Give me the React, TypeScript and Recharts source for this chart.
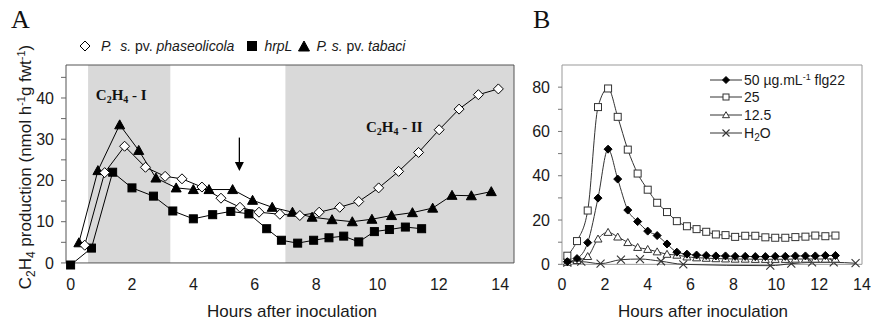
import React from 'react';
import { LineChart, Line, XAxis, YAxis, ReferenceArea, ReferenceLine, ReferenceDot } from 'recharts';

// ---------- Panel A data ----------
const phaseHours = [0.46, 1.11, 1.76, 2.44, 3.08, 3.63, 4.28, 4.9, 5.52, 6.14, 6.82, 7.47, 8.1, 8.77, 9.39, 10.04, 10.69, 11.34, 12.01, 12.66, 13.29, 13.94];
const phaseValues = [4.3, 21.9, 28.3, 23.2, 21.0, 20.4, 18.4, 15.7, 13.5, 12.3, 11.8, 11.5, 12.3, 13.5, 14.9, 18.2, 22.2, 26.8, 32.3, 37.3, 40.8, 42.2];
const hrpHours = [0, 0.68, 1.37, 2.0, 2.7, 3.33, 4.0, 4.63, 5.22, 5.81, 6.39, 6.87, 7.4, 7.92, 8.42, 8.9, 9.39, 9.9, 10.39, 10.91, 11.44];
const hrpValues = [-0.5, 3.6, 22.0, 18.2, 16.2, 12.6, 10.7, 11.7, 12.5, 11.9, 8.3, 5.5, 4.8, 5.5, 6.1, 6.5, 5.1, 7.6, 8.1, 8.7, 8.3];
const tabaciHours = [0.27, 0.89, 1.6, 2.22, 2.78, 3.44, 4.0, 4.51, 5.28, 5.93, 6.57, 7.23, 7.87, 8.52, 9.18, 9.82, 10.46, 11.14, 11.8, 12.43, 13.06, 13.71];
const tabaciValues = [4.9, 22.4, 33.5, 27.3, 20.6, 18.2, 17.8, 17.8, 17.8, 15.2, 13.5, 12.3, 11.1, 10.5, 10.0, 10.6, 11.5, 12.2, 13.3, 16.4, 16.3, 17.3];
const aXTicks = [0, 2, 4, 6, 8, 10, 12, 14];
const aYTicks = [0, 5, 10, 15, 20, 25, 30, 35, 40, 45];
const phase1 = [0.57, 3.25];
const phase2 = [7.0, 14.45];
const arrowHour = 5.5;
const arrowRange = [30.4, 22.3];

// ---------- Panel B data ----------
const bHours = [0.25, 0.7, 1.2, 1.68, 2.15, 2.6, 3.07, 3.53, 4.0, 4.44, 4.9, 5.36, 5.83, 6.28, 6.73, 7.18, 7.63, 8.08, 8.55, 9.02, 9.49, 9.95, 10.42, 10.89, 11.36, 11.82, 12.29, 12.76];
const flg50 = [1.2, 2.6, 9.8, 29.9, 52, 38.5, 24.5, 19.3, 15.0, 13.0, 9.2, 5.5, 4.6, 4.2, 4.0, 3.8, 3.8, 3.6, 3.6, 3.5, 3.5, 3.6, 3.6, 3.8, 3.8, 3.8, 4.0, 4.0];
const flg25 = [3.9, 10.5, 24.3, 71, 79.4, 66.6, 51.8, 41.0, 33.7, 27.8, 23.6, 19.5, 17.2, 15.9, 14.7, 13.5, 13.2, 12.4, 12.9, 12.9, 12.2, 12.0, 12.0, 12.3, 12.5, 13.0, 12.7, 13.0];
const flg12 = [1.0, 1.8, 3.6, 11.5, 14.5, 12.4, 9.9, 7.7, 6.8, 5.7, 4.6, 4.2, 3.4, 3.0, 2.8, 2.6, 2.5, 2.4, 2.4, 2.3, 2.3, 2.3, 2.3, 2.4, 2.4, 2.4, 2.4, 2.4];
const waterHours = [0.25, 0.9, 1.8, 2.75, 3.64, 4.62, 5.66, 9.72, 10.7, 11.67, 12.68, 13.7];
const waterValues = [0.8, 1.2, 0.3, 2.1, 2.4, 1.4, 0.0, -0.6, 0.3, 0.9, 0.9, 0.5];
const bXTicks = [0, 2, 4, 6, 8, 10, 12, 14];
const bYTicks = [0, 10, 20, 30, 40, 50, 60, 70, 80];

const pts = (hours: number[], values: number[]) => hours.map((h, i) => ({ h, v: values[i] }));
const phaseData = pts(phaseHours, phaseValues);
const hrpData = pts(hrpHours, hrpValues);
const tabaciData = pts(tabaciHours, tabaciValues);
const b50 = pts(bHours, flg50);
const b25 = pts(bHours, flg25);
const b12 = pts(bHours, flg12);
const bWater = pts(waterHours, waterValues);

const SANS = "'Liberation Sans', Arial, sans-serif";
const SERIF = "'Liberation Serif', 'Times New Roman', serif";

// ---------- marker shapes ----------
const Diamond = ({ cx, cy, r, fill, stroke }: any) => (
  <path d={`M${cx},${cy - r}L${cx + r},${cy}L${cx},${cy + r}L${cx - r},${cy}Z`} fill={fill} stroke={stroke} strokeWidth={1} />
);
const Square = ({ cx, cy, s, fill, stroke }: any) => (
  <rect x={cx - s / 2} y={cy - s / 2} width={s} height={s} fill={fill} stroke={stroke} strokeWidth={1} />
);
const Tri = ({ cx, cy, w, h, fill, stroke }: any) => (
  <path d={`M${cx},${cy - h * 0.55}L${cx + w / 2},${cy + h * 0.45}L${cx - w / 2},${cy + h * 0.45}Z`} fill={fill} stroke={stroke} strokeWidth={1} />
);
const Cross = ({ cx, cy, r, stroke }: any) => (
  <path d={`M${cx - r},${cy - r}L${cx + r},${cy + r}M${cx - r},${cy + r}L${cx + r},${cy - r}`} stroke={stroke} strokeWidth={1.1} fill="none" />
);

const dotFn = (name: string, render: (cx: number, cy: number) => React.ReactElement) => (p: any) => {
  if (p.cx == null || p.cy == null) return <g key={`${name}-${p.index}`} />;
  return <g key={`${name}-${p.index}`}>{render(p.cx, p.cy)}</g>;
};

const tickStyle = { fontSize: 16, fill: '#1a1a1a', fontFamily: SANS };

const yTickFmt10 = (v: number) => (v % 10 === 0 ? String(v) : '');
const yTickFmt20 = (v: number) => (v % 20 === 0 ? String(v) : '');

const XTitle = (dx: number) => (props: any) => {
  const vb = props.viewBox;
  return (
    <text x={vb.x + vb.width / 2 + dx} y={317} textAnchor="middle" fontSize={17} fontFamily={SANS} fill="#1a1a1a">
      Hours after inoculation
    </text>
  );
};

const YTitleA = (props: any) => {
  const cy = 167;
  const cx = 31;
  return (
    <text transform={`translate(${cx},${cy}) rotate(-90)`} textAnchor="middle" fontSize={17} fontFamily={SANS} fill="#1a1a1a">
      C
      <tspan dy={4} fontSize={12}>2</tspan>
      <tspan dy={-4}>H</tspan>
      <tspan dy={4} fontSize={12}>4</tspan>
      <tspan dy={-4}> production (nmol h</tspan>
      <tspan dy={-6} fontSize={11}>-1</tspan>
      <tspan dy={6}>g fwt</tspan>
      <tspan dy={-6} fontSize={11}>-1</tspan>
      <tspan dy={6}>)</tspan>
    </text>
  );
};

const PhaseLabel = (suffix: string) => (props: any) => {
  const vb = props.viewBox || {};
  const x = (vb.x ?? 0) + (vb.width ?? 0) / 2;
  const y = (vb.y ?? 0) + (vb.height ?? 0) / 2;
  return (
    <text x={x} y={y + 5} textAnchor="middle" fontSize={15} fontWeight="bold" fontFamily={SERIF} fill="#111">
      C
      <tspan dy={3} fontSize={10}>2</tspan>
      <tspan dy={-3}>H</tspan>
      <tspan dy={3} fontSize={10}>4</tspan>
      <tspan dy={-3}>{` - ${suffix}`}</tspan>
    </text>
  );
};

const Arrow = (p: any) => {
  const x = p.x1;
  const top = Math.min(p.y1, p.y2);
  const bot = Math.max(p.y1, p.y2);
  return (
    <g>
      <line x1={x} y1={top} x2={x} y2={bot - 7} stroke="#000" strokeWidth={1.3} />
      <path d={`M${x - 4.5},${bot - 9}L${x + 4.5},${bot - 9}L${x},${bot}Z`} fill="#000" />
    </g>
  );
};

const ChartA = () => (
  <LineChart width={530} height={321} margin={{ top: 65, right: 16, left: 0, bottom: 26 }}>
    <XAxis
      type="number"
      dataKey="h"
      domain={[-0.15, 14.45]}
      ticks={aXTicks}
      allowDuplicatedCategory={false}
      axisLine={false}
      tickLine={false}
      tickSize={4}
      tickMargin={10}
      tick={tickStyle}
      height={30}
      label={{ content: XTitle(2) }}
    />
    <YAxis
      type="number"
      dataKey="v"
      domain={[-0.5, 48]}
      ticks={aYTicks}
      tickFormatter={yTickFmt10}
      interval={0}
      axisLine={false}
      tickLine={{ stroke: '#666' }}
      tickSize={5}
      tickMargin={7}
      tick={tickStyle}
      width={66}
      label={{ content: YTitleA }}
    />
    <ReferenceArea x1={phase1[0]} x2={phase1[1]} y1={0} y2={48} fill="#d9d9d9" fillOpacity={1} stroke="none" />
    <ReferenceArea x1={phase2[0]} x2={phase2[1]} y1={0} y2={48} fill="#d9d9d9" fillOpacity={1} stroke="none" />
    <ReferenceArea x1={-0.15} x2={14.45} y1={0} y2={48} fill="none" fillOpacity={0} stroke="#555" strokeWidth={1} />
    <ReferenceLine segment={[{ x: arrowHour, y: arrowRange[0] }, { x: arrowHour, y: arrowRange[1] }]} shape={Arrow} />
    <ReferenceDot x={1.65} y={40.8} r={0} fill="none" stroke="none" label={{ content: PhaseLabel('I') }} />
    <ReferenceDot x={10.55} y={33} r={0} fill="none" stroke="none" label={{ content: PhaseLabel('II') }} />
    <Line data={hrpData} dataKey="v" stroke="#000" strokeWidth={1} isAnimationActive={false} type="linear"
      dot={dotFn('hrp', (cx, cy) => <Square cx={cx} cy={cy} s={8} fill="#000" stroke="#000" />)} />
    <Line data={tabaciData} dataKey="v" stroke="#000" strokeWidth={1} isAnimationActive={false} type="linear"
      dot={dotFn('tab', (cx, cy) => <Tri cx={cx} cy={cy} w={10} h={9} fill="#000" stroke="#000" />)} />
    <Line data={phaseData} dataKey="v" stroke="#000" strokeWidth={1} isAnimationActive={false} type="linear"
      dot={dotFn('pha', (cx, cy) => <Diamond cx={cx} cy={cy} r={5} fill="#fff" stroke="#000" />)} />
  </LineChart>
);

const LINE_B = '#333';

const ChartB = () => (
  <LineChart width={351} height={321} margin={{ top: 65, right: 9, left: 0, bottom: 24 }}>
    <XAxis
      type="number"
      dataKey="h"
      domain={[0, 14]}
      ticks={bXTicks}
      allowDuplicatedCategory={false}
      axisLine={false}
      tickLine={false}
      tickSize={4}
      tickMargin={8}
      tick={tickStyle}
      height={30}
      label={{ content: XTitle(-9) }}
    />
    <YAxis
      type="number"
      dataKey="v"
      domain={[-1.2, 90]}
      ticks={bYTicks}
      tickFormatter={yTickFmt20}
      interval={0}
      axisLine={false}
      tickLine={{ stroke: '#777' }}
      tickSize={4}
      tickMargin={8}
      tick={tickStyle}
      width={42}
    />
    <ReferenceArea x1={0} x2={14} y1={0} y2={90} fill="none" fillOpacity={0} stroke="#999" strokeWidth={1} />
    <Line data={bWater} dataKey="v" stroke={LINE_B} strokeWidth={1} isAnimationActive={false} type="monotone"
      dot={dotFn('w', (cx, cy) => <Cross cx={cx} cy={cy} r={4} stroke="#333" />)} />
    <Line data={b12} dataKey="v" stroke={LINE_B} strokeWidth={1} isAnimationActive={false} type="monotone"
      dot={dotFn('t12', (cx, cy) => <Tri cx={cx} cy={cy} w={8} h={7} fill="#fff" stroke="#333" />)} />
    <Line data={b25} dataKey="v" stroke={LINE_B} strokeWidth={1} isAnimationActive={false} type="monotone"
      dot={dotFn('s25', (cx, cy) => <Square cx={cx} cy={cy} s={7} fill="#fff" stroke="#333" />)} />
    <Line data={b50} dataKey="v" stroke={LINE_B} strokeWidth={1} isAnimationActive={false} type="monotone"
      dot={dotFn('d50', (cx, cy) => <Diamond cx={cx} cy={cy} r={4} fill="#000" stroke="#000" />)} />
  </LineChart>
);

const legendA = [
  { key: 'pha', parts: [['P.', true], ['\u00a0 ', false], ['s.', true], [' pv. ', false], ['phaseolicola', true]] },
  { key: 'hrp', parts: [['hrpL', true]] },
  { key: 'tab', parts: [['P. s.', true], [' pv. ', false], ['tabaci', true]] },
];

const LegendSymbolA = ({ k }: { k: string }) => (
  <svg width={12} height={12} style={{ display: 'block' }}>
    {k === 'pha' && <Diamond cx={6} cy={6} r={5} fill="#fff" stroke="#000" />}
    {k === 'hrp' && <Square cx={6} cy={6} s={9} fill="#000" stroke="#000" />}
    {k === 'tab' && <Tri cx={6} cy={6.5} w={11} h={10} fill="#000" stroke="#000" />}
  </svg>
);

const legendB = [
  { key: '50', label: <>50 µg.mL<sup style={{ fontSize: 9, verticalAlign: 5, lineHeight: 0 }}>-1</sup> flg22</> },
  { key: '25', label: <>25</> },
  { key: '12', label: <>12.5</> },
  { key: 'w', label: <>H<sub style={{ fontSize: 10, verticalAlign: -3, lineHeight: 0 }}>2</sub>O</> },
];

const LegendSymbolB = ({ k }: { k: string }) => (
  <svg width={32} height={12} style={{ display: 'block' }}>
    <line x1={0} y1={6} x2={32} y2={6} stroke="#333" strokeWidth={1} />
    {k === '50' && <Diamond cx={16} cy={6} r={3.5} fill="#000" stroke="#000" />}
    {k === '25' && <Square cx={16} cy={6} s={6} fill="#fff" stroke="#333" />}
    {k === '12' && <Tri cx={16} cy={6} w={7} h={6} fill="#fff" stroke="#333" />}
    {k === 'w' && <Cross cx={16} cy={6} r={3.5} stroke="#333" />}
  </svg>
);

export default function App() {
  return (
    <div style={{ position: 'absolute', left: 0, top: 0, width: 871, height: 321, background: '#fff', overflow: 'hidden' }}>
      <div style={{ position: 'absolute', left: 0, top: 0 }}>
        <ChartA />
      </div>
      <div style={{ position: 'absolute', left: 520, top: 0 }}>
        <ChartB />
      </div>
      <div style={{ position: 'absolute', left: 11, top: 7, fontFamily: SERIF, fontSize: 26, lineHeight: 1, color: '#111' }}>A</div>
      <div style={{ position: 'absolute', left: 533, top: 7, fontFamily: SERIF, fontSize: 26, lineHeight: 1, color: '#111' }}>B</div>
      <div style={{ position: 'absolute', left: 79, top: 37, display: 'flex', alignItems: 'center', fontFamily: SANS, fontSize: 14, color: '#1a1a1a', height: 18, whiteSpace: 'pre' }}>
        {legendA.map((item, i) => (
          <div key={item.key} style={{ display: 'flex', alignItems: 'center', marginLeft: i === 0 ? 0 : i === 1 ? 12 : 6 }}>
            <LegendSymbolA k={item.key} />
            <span style={{ marginLeft: item.key === 'pha' ? 10 : 6 }}>
              {item.parts.map((p, j) => (
                <span key={j} style={{ fontStyle: p[1] ? 'italic' : 'normal' }}>{p[0] as string}</span>
              ))}
            </span>
          </div>
        ))}
      </div>
      <div style={{ position: 'absolute', left: 710, top: 71, fontFamily: SANS, fontSize: 14, color: '#1a1a1a' }}>
        {legendB.map((item) => (
          <div key={item.key} style={{ display: 'flex', alignItems: 'center', height: 17.6 }}>
            <LegendSymbolB k={item.key} />
            <span style={{ marginLeft: 2, lineHeight: 1 }}>{item.label}</span>
          </div>
        ))}
      </div>
    </div>
  );
}
